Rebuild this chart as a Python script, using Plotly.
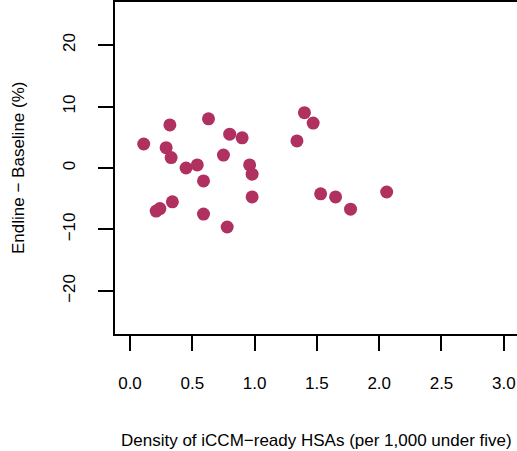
import plotly.graph_objects as go

# Density of iCCM-ready HSAs (per 1,000 under five) per district
density = [0.11, 0.32, 0.63, 0.80, 0.90, 0.29, 0.33, 0.75, 0.45, 0.54,
           0.96, 0.98, 0.59, 0.34, 0.21, 0.24, 0.98, 0.59, 0.78,
           1.40, 1.47, 1.34, 1.53, 1.65, 1.77, 2.06]
# Change in coverage, endline minus baseline (%)
change = [3.9, 7.0, 8.0, 5.5, 4.9, 3.3, 1.7, 2.1, 0.0, 0.5,
          0.5, -1.0, -2.1, -5.5, -7.0, -6.6, -4.7, -7.5, -9.6,
          9.0, 7.3, 4.4, -4.2, -4.7, -6.7, -3.9]

x_ticks = [0.0, 0.5, 1.0, 1.5, 2.0, 2.5, 3.0]
x_ticklabels = ["0.0", "0.5", "1.0", "1.5", "2.0", "2.5", "3.0"]
y_ticks = [-20, -10, 0, 10, 20]
y_ticklabels = ["\u221220", "\u221210", "0", "10", "20"]

FONT = "Liberation Sans, Arial, sans-serif"

fig = go.Figure(
    go.Scatter(
        x=density, y=change, mode="markers",
        marker=dict(size=13, color="#B03060", line=dict(width=0)),
        hoverinfo="skip",
    )
)

axis_common = dict(
    showgrid=False, zeroline=False,
    showline=True, linecolor="black", linewidth=2,
    ticks="outside", ticklen=15, tickwidth=2, tickcolor="black",
    tickfont=dict(family=FONT, size=17, color="black"),
)

fig.update_layout(
    width=517, height=451,
    margin=dict(l=115, r=0, t=2, b=117),
    paper_bgcolor="white", plot_bgcolor="white",
    showlegend=False,
    # the box runs past the right edge of the page, so only left, top and
    # bottom sides are drawn
    xaxis=dict(range=[-0.1204, 3.106], tickvals=x_ticks, ticktext=x_ticklabels,
               ticklabelstandoff=18, mirror=True, **axis_common),
    yaxis=dict(range=[-27, 27], tickvals=y_ticks, ticktext=y_ticklabels,
               tickangle=-90, ticklabelstandoff=16, mirror=False, **axis_common),
    annotations=[
        dict(text="Density of iCCM\u2212ready HSAs (per 1,000 under five)",
             xref="paper", yref="paper", x=0.5, y=0, yanchor="middle",
             yshift=-106, showarrow=False,
             font=dict(family=FONT, size=17, color="black")),
        dict(text="Endline \u2212 Baseline (%)",
             xref="paper", yref="paper", x=0, y=0.5, xanchor="center",
             xshift=-97, textangle=-90, showarrow=False,
             font=dict(family=FONT, size=17, color="black")),
    ],
)

fig.write_html("out.html")
